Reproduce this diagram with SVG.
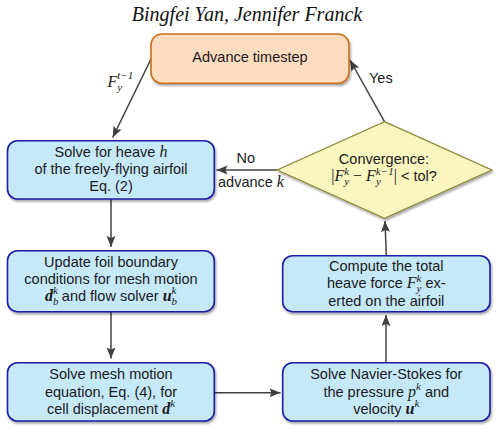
<svg xmlns="http://www.w3.org/2000/svg" width="503" height="433" viewBox="0 0 503 433">
<defs>
<filter id="sh" x="-10%" y="-10%" width="125%" height="135%">
<feDropShadow dx="1.2" dy="2" stdDeviation="1.3" flood-color="#000" flood-opacity="0.35"/>
</filter>
<marker id="ah" markerUnits="userSpaceOnUse" markerWidth="12" markerHeight="10" refX="11" refY="4.5" orient="auto">
<path d="M0,0 L11,4.5 L0,9 L2,4.5 z" fill="#404040"/>
</marker>
<style>
.blue{fill:#c6e9fa;stroke:#1c1ca6;stroke-width:1.6;filter:url(#sh)}
.orange{fill:#fddcbf;stroke:#c8701e;stroke-width:1.6;filter:url(#sh)}
.dia{fill:#fbf5c0;stroke:#8f8a3c;stroke-width:1.3;filter:url(#sh)}
.t{font-family:"Liberation Sans",Arial,sans-serif;font-size:14.5px;fill:#1a1a1a;text-anchor:middle}
.l{font-family:"Liberation Sans",Arial,sans-serif;font-size:14.5px;fill:#1a1a1a}
.m{font-family:"Liberation Serif","Times New Roman",serif;font-style:italic;font-size:16px}
.b{font-family:"Liberation Serif","Times New Roman",serif;font-style:italic;font-weight:bold;font-size:16px}
.s{font-family:"Liberation Serif","Times New Roman",serif;font-style:italic;font-size:11px}
.r{font-family:"Liberation Serif","Times New Roman",serif;font-size:16px}
.c{stroke:#404040;stroke-width:1.5;fill:none;marker-end:url(#ah)}
</style>
</defs>
<text x="247" y="20.5" font-family="'Liberation Serif','Times New Roman',serif" font-style="italic" font-size="20" text-anchor="middle" fill="#111">Bingfei Yan, Jennifer Franck</text>

<g id="connectors">
<line class="c" x1="151" y1="59" x2="112.7" y2="137.5"/>
<line class="c" x1="111" y1="199" x2="111" y2="247"/>
<line class="c" x1="111" y1="312" x2="111" y2="358.5"/>
<line class="c" x1="214.3" y1="392.7" x2="280.5" y2="392.7"/>
<line class="c" x1="386" y1="362.7" x2="386" y2="315"/>
<line class="c" x1="386.3" y1="255.7" x2="385" y2="221"/>
<line class="c" x1="384.5" y1="121.7" x2="350" y2="60"/>
<line class="c" x1="277.3" y1="170" x2="216.5" y2="170"/>
<text x="107.5" y="86.7" fill="#1a1a1a"><tspan class="m">F</tspan><tspan class="s" dy="4.5">y</tspan><tspan class="s" dx="-4.9" dy="-12">t</tspan><tspan class="s" font-style="normal">−1</tspan></text>
<text class="l" x="369" y="82.7">Yes</text>
<text class="l" x="236.5" y="163">No</text>
<text class="l" x="218" y="186.7">advance <tspan class="m">k</tspan></text>
</g>

<g id="advance">
<rect class="orange" x="151" y="34" width="198" height="49.3" rx="11"/>
<text class="t" x="250" y="62.3">Advance timestep</text>
</g>

<g id="solve-heave">
<rect class="blue" x="7.5" y="140.7" width="206.8" height="58.3" rx="10"/>
<text class="t" x="111" y="156.5">Solve for heave <tspan class="m">h</tspan></text>
<text class="t" x="111" y="173.5">of the freely-flying airfoil</text>
<text class="t" x="111" y="191">Eq. (2)</text>
</g>

<g id="update-bc">
<rect class="blue" x="7.5" y="250.7" width="206.8" height="61" rx="10"/>
<text class="t" x="111" y="266.5">Update foil boundary</text>
<text class="t" x="111" y="283.5">conditions for mesh motion</text>
<text class="t" x="111" y="300.5"><tspan class="b">d</tspan><tspan class="s" dy="4">b</tspan><tspan class="s" dx="-5.5" dy="-10.5">k</tspan><tspan dy="6.5"> and flow solver </tspan><tspan class="b">u</tspan><tspan class="s" dy="4">b</tspan><tspan class="s" dx="-5.5" dy="-10.5">k</tspan></text>
</g>

<g id="mesh-motion">
<rect class="blue" x="7.5" y="362.7" width="206.8" height="58.3" rx="10"/>
<text class="t" x="111" y="379">Solve mesh motion</text>
<text class="t" x="111" y="396.5">equation, Eq. (4), for</text>
<text class="t" x="111" y="413.5">cell displacement <tspan class="b">d</tspan><tspan class="s" dy="-6.5">k</tspan></text>
</g>

<g id="navier-stokes">
<rect class="blue" x="282.7" y="362.7" width="207.3" height="58.3" rx="10"/>
<text class="t" x="386.3" y="379">Solve Navier-Stokes for</text>
<text class="t" x="386.3" y="396.5">the pressure <tspan class="m">p</tspan><tspan class="s" dy="-6.5">k</tspan><tspan dy="6.5"> and</tspan></text>
<text class="t" x="386.3" y="413.5">velocity <tspan class="b">u</tspan><tspan class="s" dy="-6.5">k</tspan></text>
</g>

<g id="compute-force">
<rect class="blue" x="282.7" y="255.7" width="207.3" height="56" rx="10"/>
<text class="t" x="386.3" y="270.7">Compute the total</text>
<text class="t" x="386.3" y="288.3">heave force <tspan class="m">F</tspan><tspan class="s" dy="4">y</tspan><tspan class="s" dx="-4.9" dy="-10.5">k</tspan><tspan dy="6.5"> ex-</tspan></text>
<text class="t" x="386.3" y="305.7">erted on the airfoil</text>
</g>

<g id="convergence">
<polygon class="dia" points="384.5,121.7 491.7,170 384.5,218.3 277.3,170"/>
<text class="t" x="384" y="164">Convergence:</text>
<text class="t" x="384" y="181.3"><tspan class="r">|</tspan><tspan class="m">F</tspan><tspan class="s" dy="4">y</tspan><tspan class="s" dx="-4.9" dy="-10.5">k</tspan><tspan class="r" dy="6.5"> − </tspan><tspan class="m">F</tspan><tspan class="s" dy="4">y</tspan><tspan class="s" dx="-4.9" dy="-10.5">k</tspan><tspan class="s" font-style="normal">−1</tspan><tspan class="r" dy="6.5">|</tspan> &lt; tol?</text>
</g>
</svg>
